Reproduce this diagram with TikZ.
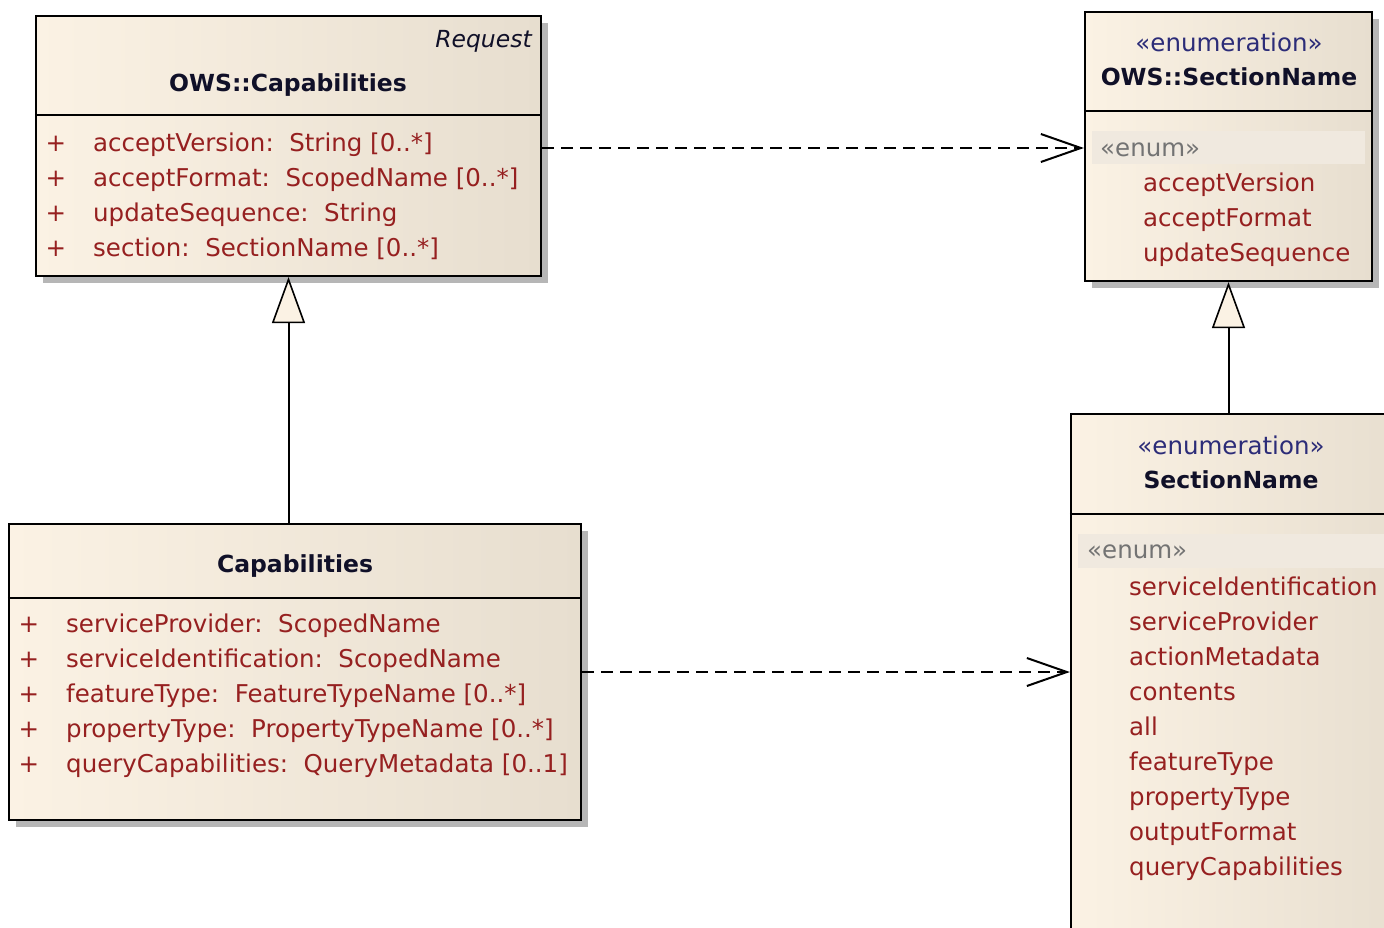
\documentclass[tikz,border=0pt]{standalone}
\usepackage{fontspec}
\setmainfont{DejaVu Sans}
\usetikzlibrary{arrows.meta,calc,shadows}
\definecolor{creamL}{RGB}{251,242,228}
\definecolor{creamR}{RGB}{231,222,207}
\definecolor{shadowc}{RGB}{182,182,182}
\definecolor{attrc}{RGB}{150,32,32}
\definecolor{titlec}{RGB}{16,16,40}
\definecolor{sterc}{RGB}{44,44,120}
\definecolor{enumc}{RGB}{115,115,115}
\definecolor{bandc}{RGB}{240,233,223}
\begin{document}
\begin{tikzpicture}[x=1pt,y=-1pt,
  umlbox/.style={draw=black, line width=2.2pt, left color=creamL, right color=creamR, inner sep=0pt,
    drop shadow={shadow xshift=7pt, shadow yshift=-7pt, fill=shadowc, opacity=1}},
  divider/.style={draw=black, line width=2.2pt},
  txt/.style={font=\fontsize{24.5}{28}\selectfont, inner sep=0pt},
  attr/.style={txt, text=attrc, anchor=mid west},
  plus/.style={txt, text=attrc, anchor=mid},
  titletxt/.style={txt, font=\fontsize{23.5}{28}\selectfont\bfseries, text=titlec, anchor=mid},
  stereo/.style={txt, text=sterc, anchor=mid},
  enumtag/.style={txt, text=enumc, anchor=mid west},
  band/.style={fill=bandc},
  dep/.style={draw=black, line width=2pt, dash pattern=on 12pt off 7pt,
    -{Straight Barb[length=40pt,width=28pt,line width=2pt]}},
  gen/.style={draw=black, line width=2pt,
    -{Triangle[length=46pt,width=33pt,fill=creamL,line width=1.6pt]}}
]
\useasboundingbox (0,0) rectangle (1384,927);
\fill[white] (0,0) rectangle (1384,927);
\clip (0,0) rectangle (1384,927);

% ---------- OWS::Capabilities ----------
\node[umlbox, minimum width=505pt, minimum height=260pt] (owscap) at (288.5,146) {};
\draw[divider] (owscap.west |- 0,115) -- (owscap.east |- 0,115);
\node[txt, font=\fontsize{23.5}{28}\selectfont\itshape, text=titlec, anchor=mid east] (req) at (532,45) {Request};
\node[titletxt] (owscapt) at (288,89) {OWS::Capabilities};
\foreach \i/\t in {0/{acceptVersion:\ \ String [0..*]},1/{acceptFormat:\ \ ScopedName [0..*]},2/{updateSequence:\ \ String},3/{section:\ \ SectionName [0..*]}}{
  \node[plus] (owscapp\i) at (56,148.5+35*\i) {+};
  \node[attr] (owscapa\i) at (93,148.5+35*\i) {\t};
}

% ---------- OWS::SectionName ----------
\node[umlbox, minimum width=287pt, minimum height=269pt] (owssec) at (1228.5,146.5) {};
\draw[divider] (owssec.west |- 0,111) -- (owssec.east |- 0,111);
\node[stereo] (owssecs) at (1229,49) {«enumeration»};
\node[titletxt] (owssect) at (1229,83) {OWS::SectionName};
\fill[band] (1092,131) rectangle (1365,164);
\node[enumtag] (owssece) at (1100,154) {«enum»};
\foreach \i/\t in {0/acceptVersion,1/acceptFormat,2/updateSequence}{
  \node[attr] (owssecv\i) at (1143,188.5+35*\i) {\t};
}

% ---------- Capabilities ----------
\node[umlbox, minimum width=572pt, minimum height=296pt] (cap) at (295,672) {};
\draw[divider] (cap.west |- 0,598) -- (cap.east |- 0,598);
\node[titletxt] (capt) at (295,570) {Capabilities};
\foreach \i/\t in {0/{serviceProvider:\ \ ScopedName},1/{serviceIdentification:\ \ ScopedName},2/{featureType:\ \ FeatureTypeName [0..*]},3/{propertyType:\ \ PropertyTypeName [0..*]},4/{queryCapabilities:\ \ QueryMetadata [0..1]}}{
  \node[plus] (capp\i) at (29,629.5+35*\i) {+};
  \node[attr] (capa\i) at (66,629.5+35*\i) {\t};
}

% ---------- SectionName ----------
\node[umlbox, minimum width=340pt, minimum height=560pt] (secname) at (1241,694) {};
\draw[divider] (secname.west |- 0,514) -- (1400,514);
\node[stereo] (secnames) at (1231,452) {«enumeration»};
\node[titletxt] (secnamet) at (1231,486) {SectionName};
\fill[band] (1078,534) rectangle (1400,568);
\node[enumtag] (secnamee) at (1087,556) {«enum»};
\foreach \i/\t in {0/serviceIdentification,1/serviceProvider,2/actionMetadata,3/contents,4/all,5/featureType,6/propertyType,7/outputFormat,8/queryCapabilities}{
  \node[attr] (secnamev\i) at (1129,592.5+35*\i) {\t};
}

% ---------- connectors ----------
\draw[gen] (cap.north -| owscap.south) -- (owscap.south);
\draw[gen] (secname.north -| owssec.south) -- (owssec.south);
\draw[dep] (owscap.east |- 0,148) -- (owssec.west |- 0,148);
\draw[dep] (cap.east) -- (secname.west |- cap.east);
\end{tikzpicture}
\end{document}
